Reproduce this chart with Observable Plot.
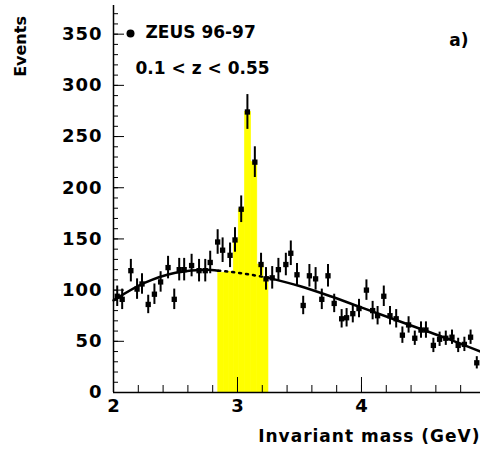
<!DOCTYPE html>
<html><head>
<script src="https://cdn.jsdelivr.net/npm/d3@7"></script>
<script src="https://cdn.jsdelivr.net/npm/@observablehq/plot@0.6"></script>
<style>body{margin:0;background:#fff} .lbl text{letter-spacing:1px}</style>
</head><body><div id="c"></div>
<script>
const mass = [2.03,2.07,2.14,2.19,2.23,2.28,2.33,2.38,2.44,2.49,2.53,2.57,2.63,2.69,2.74,2.78,2.84,2.88,2.94,2.98,3.03,3.08,3.14,3.19,3.23,3.28,3.33,3.39,3.43,3.48,3.53,3.58,3.63,3.68,3.73,3.78,3.84,3.88,3.93,3.98,4.04,4.09,4.13,4.18,4.23,4.28,4.33,4.38,4.43,4.48,4.52,4.58,4.63,4.68,4.73,4.78,4.83,4.88,4.93];
const events = [94,91,119,101,106,86,96,108,122,91,120,120,124,119,119,127,147,139,134,149,179,274,225,125,111,112,120,125,136,115,85,114,111,91,114,87,72,73,77,82,100,80,75,94,75,72,56,66,53,61,61,46,52,53,54,46,47,54,29];
const errs = [10,10,11,10,10,9,10,10,11,10,11,11,11,11,11,11,12,12,12,12,13,17,15,11,11,11,11,11,12,11,9,11,11,10,11,9,9,9,9,9,10,9,9,10,9,9,8,8,7,8,8,7,7,7,7,7,7,7,6];
const fitX = [2,2.25,2.5,2.75,2.845,3,3.25,3.5,3.75,4,4.25,4.5,4.75,5];
const fitY = [90,107,117,120,119,117,112,104,94,83,72,61,50,38];
const bandLo = 2.845, bandHi = 3.25;

const pts = mass.map((m,i)=>({m, e:events[i], lo:events[i]-errs[i], hi:events[i]+errs[i]}));
const fit = fitX.map((x,i)=>({x, y:fitY[i]}));
const edges = [bandLo, 2.89, 2.93, 2.97, 3.01, 3.06, 3.11, 3.16, 3.21, bandHi];
const barVals = [117,117,118,149,179,274,225,125,111];
const bars = barVals.map((v,i)=>({x1:edges[i], x2:edges[i+1], y:v}));

const fnt = "DejaVu Sans, sans-serif";
const chart = Plot.plot({
  width: 480, height: 456,
  marginLeft: 113, marginRight: 0, marginTop: 5, marginBottom: 64,
  style: {fontFamily: fnt, fontWeight: "bold", fontSize: "17px", background: "#fff", overflow: "visible"},
  x: {domain: [2, 4.96]},
  y: {domain: [0, 378]},
  marks: [
    Plot.rectY(bars, {x1:"x1", x2:"x2", y:"y", fill:"#ffff00", inset:0, stroke:"#ffff00", strokeWidth:0.6}),
    Plot.line(fit.filter(d=>d.x<=bandLo), {x:"x", y:"y", curve:"monotone-x", strokeWidth:2.5}),
    Plot.line(fit.filter(d=>d.x>=bandLo && d.x<=bandHi), {x:"x", y:"y", curve:"monotone-x", strokeWidth:2.5, strokeDasharray:"2,5"}),
    Plot.line(fit.filter(d=>d.x>=bandHi), {x:"x", y:"y", curve:"monotone-x", strokeWidth:2.5}),
    Plot.ruleY([0], {strokeWidth:1.5}), Plot.ruleX([2], {strokeWidth:1.5}),
    Plot.axisY({ticks: d3.range(0,371,10), tickSize:-5, tickFormat:()=>"", anchor:"left"}),
    Plot.axisY({ticks: d3.range(0,351,50), tickSize:-11, tickPadding:22, anchor:"left", fontSize:18, fontWeight:"bold", className:"lbl"}),
    Plot.axisX({ticks: d3.range(2,4.97,0.2), tickSize:-7, tickFormat:()=>"", anchor:"bottom"}),
    Plot.axisX({ticks: [2,3,4], tickSize:-15, tickPadding:22, anchor:"bottom", tickFormat:d=>d, fontSize:18, fontWeight:"bold"}),
    Plot.ruleX(pts, {x:"m", y1:"lo", y2:"hi", strokeWidth:2}),
    Plot.dot(pts, {x:"m", y:"e", r:3, fill:"black", symbol:"square"}),
    Plot.text(["Events"], {x:1.25, y:338, rotate:-90, fontSize:16, fontWeight:"bold", clip:false}),
    Plot.text(["Invariant mass (GeV)"], {frameAnchor:"bottom-right", dx:0, dy:49, textAnchor:"end", fontSize:17, fontWeight:"bold", className:"lbl"}),
    Plot.dot([0], {frameAnchor:"top-left", dx:17, dy:28, r:4, fill:"black"}),
    Plot.text(["ZEUS 96-97"], {frameAnchor:"top-left", dx:32, dy:20, textAnchor:"start", fontSize:17, fontWeight:"bold"}),
    Plot.text(["0.1 < z < 0.55"], {frameAnchor:"top-left", dx:22, dy:56, textAnchor:"start", fontSize:17, fontWeight:"bold"}),
    Plot.text(["a)"], {frameAnchor:"top-right", dx:-12, dy:28, textAnchor:"end", fontSize:17, fontWeight:"bold"})
  ]
});
document.getElementById("c").append(chart);
</script></body></html>
